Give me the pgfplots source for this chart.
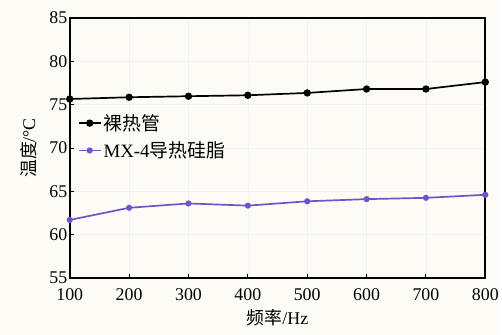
\documentclass[border=0pt]{standalone}
\usepackage{fontspec}
\setmainfont{Liberation Serif}
\newfontfamily\cjk{Noto Sans CJK SC}
\usepackage{pgfplots}
\pgfplotsset{compat=1.18}
\definecolor{bg}{RGB}{252,251,246}
\definecolor{mxpurple}{RGB}{112,84,196}
\begin{document}
\begin{tikzpicture}
\fill[bg] (-70bp,-57bp) rectangle (432bp,279bp);
\begin{axis}[
  at={(0,0)}, anchor=south west,
  scale only axis, width=417bp, height=261bp,
  xmin=100, xmax=800, ymin=55, ymax=85,
  xtick={100,200,...,800}, ytick={55,60,...,85},
  tick align=inside, tick pos=left,
  major tick length=4bp,
  axis line style={line width=1.8bp},
  every tick/.style={black, line width=0.9bp},
  grid=major, major grid style={black!5, line width=0.6bp},
  /pgf/number format/assume math mode=true,
  ticklabel style={font=\fontsize{18}{18}\selectfont},
  xticklabel style={yshift=-7bp},
  yticklabel style={xshift=1bp},
  xlabel={{\cjk 频率}/Hz}, ylabel={{\cjk 温度}/°C},
  label style={font=\fontsize{18}{18}\selectfont},
  xlabel style={yshift=-2bp},
  ylabel style={yshift=6bp},
  clip=false,
  legend style={draw=none, fill=none, at={(0.012,0.645)}, anchor=north west,
    font=\fontsize{19}{20}\selectfont, row sep=6bp,
    /tikz/every even column/.style={column sep=2bp}},
  legend cell align=left,
  legend image code/.code={\draw[#1, line width=1.7bp] (0bp,0bp) -- (22bp,0bp); \draw[#1, only marks] plot coordinates {(11bp,0bp)};},
]
\addplot[black, line width=1.7bp, mark=*, mark size=2.8bp] coordinates {
(100,75.65) (200,75.85) (300,75.97) (400,76.08) (500,76.35) (600,76.8) (700,76.8) (800,77.6)};
\addlegendentry{{\cjk 裸热管}}
\addplot[mxpurple, line width=1.7bp, mark=*, mark size=2.2bp] coordinates {
(100,61.7) (200,63.1) (300,63.6) (400,63.35) (500,63.85) (600,64.1) (700,64.25) (800,64.6)};
\addlegendentry{MX-4{\cjk 导热硅脂}}
\end{axis}
\end{tikzpicture}
\end{document}
